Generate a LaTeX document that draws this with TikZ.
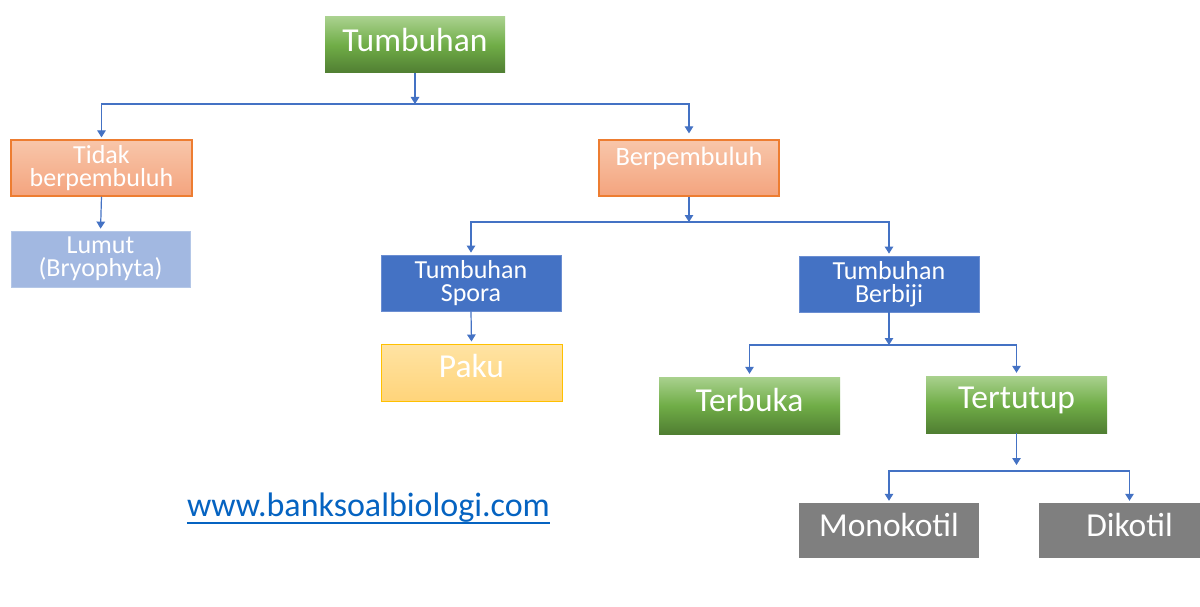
\documentclass[tikz,border=0pt]{standalone}
\usepackage{fontspec}
\setmainfont{Carlito}
\usetikzlibrary{arrows.meta}
\definecolor{linkblue}{HTML}{4472C4}
\definecolor{urlblue}{HTML}{0563C1}
\definecolor{gtop}{HTML}{A9D18E}
\definecolor{gmid}{HTML}{70AD47}
\definecolor{gbot}{HTML}{507E32}
\definecolor{otop}{HTML}{F8C6AA}
\definecolor{obot}{HTML}{F4A47E}
\definecolor{oline}{HTML}{ED7D31}
\definecolor{lumutfill}{HTML}{A2B8E1}
\definecolor{lumutline}{HTML}{B4C7E7}
\definecolor{bluefill}{HTML}{4472C4}
\definecolor{blueline}{HTML}{6B8ED2}
\definecolor{ytop}{HTML}{FFE3A3}
\definecolor{ybot}{HTML}{FFD47A}
\definecolor{yline}{HTML}{FFC000}
\definecolor{grayfill}{HTML}{7F7F7F}
\begin{document}
\begin{tikzpicture}[x=1pt,y=-1pt,
  box/.style={minimum width=180pt, minimum height=56pt, inner sep=0pt, text=white, align=center,
    font={\fontsize{26}{23.5}\selectfont}},
  bigtext/.style={text=white, inner sep=0pt, font={\fontsize{33.5}{38}\selectfont}},
  greenbox/.style={box, top color=gtop, bottom color=gbot, middle color=gmid},
  orangebox/.style={box, top color=otop, bottom color=obot, draw=oline, line width=1.2pt},
  lumutbox/.style={box, fill=lumutfill, draw=lumutline, line width=0.8pt},
  bluebox/.style={box, fill=bluefill, draw=blueline, line width=0.8pt},
  yellowbox/.style={box, top color=ytop, bottom color=ybot, draw=yline, line width=1pt},
  graybox/.style={box, fill=grayfill},
  conn/.style={draw=linkblue, line width=1.2pt},
  arr/.style={conn, -{Triangle[length=7pt,width=8.5pt]}, shorten >=2pt}
]
\clip (0,0) rectangle (1200,607);
\fill[white] (0,0) rectangle (1200,607);

% boxes
\node[greenbox, label={[bigtext, yshift=5pt]center:Tumbuhan}] (tumb) at (415,45) {};
\node[orangebox, minimum width=181pt] (tidak) at (101.5,168) {Tidak\\berpembuluh};
\node[orangebox, label={[text=white, inner sep=0pt, font={\fontsize{26.5}{23.5}\selectfont}, yshift=10pt]center:Berpembuluh}] (berp) at (689,168) {};
\node[lumutbox, minimum width=179pt] (lumut) at (100.5,259) {Lumut\\(Bryophyta)};
\node[bluebox] (spora) at (471,283) {Tumbuhan\\Spora};
\node[bluebox] (berbiji) at (889,284) {Tumbuhan\\Berbiji};
\node[yellowbox, minimum width=181pt, minimum height=57pt, label={[bigtext, yshift=7pt]center:Paku}] (paku) at (471.5,372.5) {};
\node[greenbox, minimum width=181pt, minimum height=57pt, label={[bigtext, yshift=6pt]center:Terbuka}] (terbuka) at (749.5,405.5) {};
\node[greenbox, minimum width=181pt, minimum height=57pt, label={[bigtext, yshift=4pt]center:Tertutup}] (tertutup) at (1016.5,404.5) {};
\node[graybox, minimum height=55pt, label={[bigtext, yshift=6pt]center:Monokotil}] (mono) at (889,530.5) {};
\node[graybox, minimum width=181pt, minimum height=55pt, label={[bigtext, yshift=6pt]center:Dikotil}] (diko) at (1129.5,530.5) {};

% url with underline
\node[anchor=base, inner sep=0pt, text=urlblue, font={\fontsize{34}{40}\selectfont}] (url) at (368.5,516) {www.banksoalbiologi.com};
\draw[urlblue, line width=1.8pt] ([yshift=-7pt]url.base west) -- ([yshift=-7pt]url.base east);

% junctions
\coordinate (j1) at (415,104);
\coordinate (j2) at (689,222);
\coordinate (j3) at (889,345);
\coordinate (j4) at (1016.5,465);
\coordinate (j5) at (1016.5,471);

% connectors
\draw[arr, shorten >=0pt] (tumb.south) -- (j1);
\draw[arr] (j1) -| (tidak.north);
\draw[arr, shorten >=6pt] (j1) -| (berp.north);
\draw[arr] (tidak.south) -- (lumut.north);
\draw[arr, shorten >=0pt] (berp.south) -- (j2);
\draw[arr] (j2) -| (spora.north);
\draw[arr] (j2) -| (berbiji.north);
\draw[arr] (spora.south) -- (paku.north);
\draw[arr, shorten >=0pt] (berbiji.south) -- (j3);
\draw[arr, shorten >=3pt] (j3) -| (terbuka.north);
\draw[arr, shorten >=3pt] (j3) -| (tertutup.north);
\draw[arr, shorten >=0pt] (tertutup.south) -- (j4);
\draw[arr] (j5) -| (mono.north);
\draw[arr] (j5) -| (diko.north);
\end{tikzpicture}
\end{document}
